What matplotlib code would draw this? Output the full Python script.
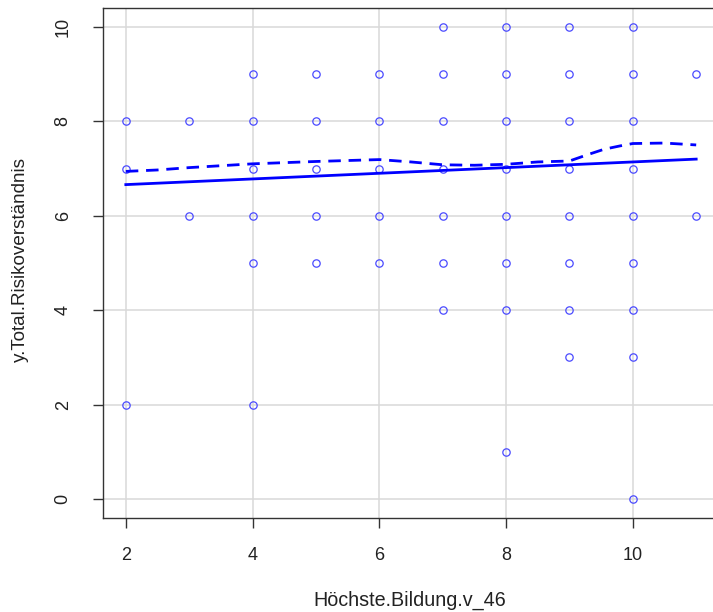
import matplotlib
matplotlib.use("Agg")
import matplotlib.pyplot as plt

# scatter data: education level vs. risk understanding score
edu = [2, 2, 2,
       3, 3,
       4, 4, 4, 4, 4, 4,
       5, 5, 5, 5, 5,
       6, 6, 6, 6, 6,
       7, 7, 7, 7, 7, 7, 7,
       8, 8, 8, 8, 8, 8, 8, 8,
       9, 9, 9, 9, 9, 9, 9, 9,
       10, 10, 10, 10, 10, 10, 10, 10, 10,
       11, 11]
risk = [8, 7, 2,
        8, 6,
        9, 8, 7, 6, 5, 2,
        9, 8, 7, 6, 5,
        9, 8, 7, 6, 5,
        10, 9, 8, 7, 6, 5, 4,
        10, 9, 8, 7, 6, 5, 4, 1,
        10, 9, 8, 7, 6, 5, 4, 3,
        10, 9, 8, 7, 6, 5, 4, 3, 0,
        9, 6]

# linear fit end points
fit_x = [2, 11]
fit_y = [6.66, 7.20]

# smoother
smooth_x = [2, 2.5, 3, 3.5, 4, 5, 6, 6.5, 7, 7.5, 8, 8.5, 9, 9.3, 9.55, 9.8, 10, 10.5, 11]
smooth_y = [6.94, 6.97, 7.02, 7.06, 7.10, 7.15, 7.19, 7.14, 7.08, 7.07, 7.09, 7.14,
            7.16, 7.30, 7.41, 7.48, 7.53, 7.54, 7.50]

W, H = 713, 612
plt.rcParams["font.family"] = ["Liberation Sans", "DejaVu Sans"]

fig = plt.figure(figsize=(W / 100, H / 100), dpi=100)
left, right, top, bottom = 103, 719, 8, 518
ax = fig.add_axes([left / W, 1 - bottom / H, (right - left) / W, (bottom - top) / H])

ax.set_xlim(1.64, 11.36)
ax.set_ylim(-0.4, 10.4)
ax.set_xticks([2, 4, 6, 8, 10])
ax.set_yticks([0, 2, 4, 6, 8, 10])
ax.grid(True, color="#d9d9d9", linewidth=1.1)
ax.set_axisbelow(True)

ax.plot(edu, risk, "o", ms=5.3, mfc="none", mec="#4a4aff", mew=0.9, zorder=3)
ax.plot(fit_x, fit_y, "-", color="#0000ff", lw=2.0, zorder=4)
ax.plot(smooth_x, smooth_y, "--", color="#0000ff", lw=2.0, dashes=(4.5, 2.8), zorder=4)

for s in ax.spines.values():
    s.set_color("#333333")
    s.set_linewidth(1.0)
ax.tick_params(axis="both", direction="out", length=7, width=1.0, color="#333333",
               labelsize=13, labelcolor="#222222")
ax.tick_params(axis="x", pad=14)
ax.tick_params(axis="y", pad=15.5)
for lbl in ax.get_yticklabels():
    lbl.set_rotation(90)
    lbl.set_va("center")

fig.text(410 / W, 1 - 600 / H, "Höchste.Bildung.v_46", ha="center", va="center",
         fontsize=14.2, color="#222222")
fig.text(20 / W, 1 - 260 / H, "y.Total.Risikoverständnis", ha="center", va="center",
         rotation=90, fontsize=13.6, color="#222222")

fig.savefig("out.png", dpi=100)
